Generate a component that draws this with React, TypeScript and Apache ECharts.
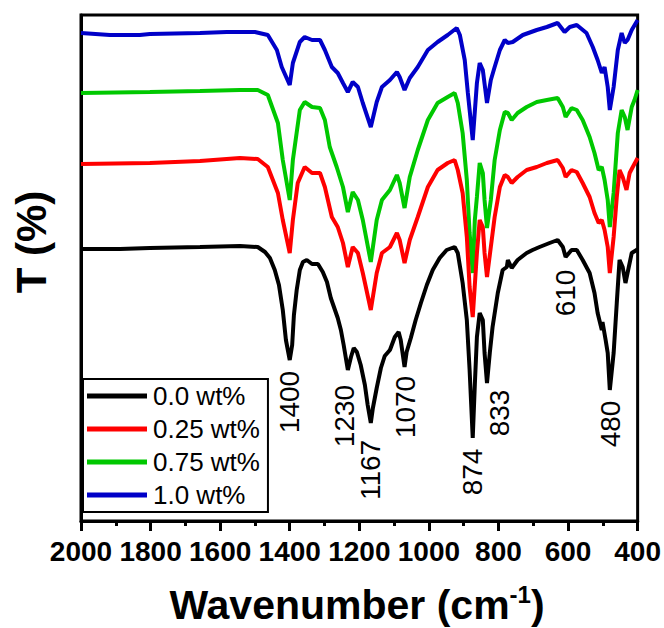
import React, { useEffect, useRef } from "react";
import * as echarts from "echarts";

// Wavenumber (cm-1) and transmittance (arbitrary offset units)
const blackWn = [2000,1888,1802,1658,1543,1492,1471,1457,1443,1431,1420,1411,1400,1393,1388,1380,1371,1362,1351,1336,1319,1305,1293,1282,1270,1262,1253,1245,1233,1224,1216,1207,1196,1184,1176,1167,1161,1150,1138,1127,1112,1098,1087,1081,1070,1064,1052,1038,1023,1006,989,969,949,926,917,903,891,883,874,868,862,854,845,840,833,825,817,802,788,776,773,762,745,719,702,682,653,630,615,607,590,575,558,538,524,515,503,501,492,486,480,469,460,452,443,435,429,417,403,400];
const blackT = [272,272,273,274,275,274,269,263,251,236,211,181,161,176,206,231,251,259,261,257,257,249,239,223,211,203,191,176,151,164,173,169,156,136,116,98,113,133,153,165,171,184,189,181,154,169,183,201,218,236,251,263,271,274,268,238,201,151,83,136,184,208,201,168,138,168,194,228,251,254,261,253,261,268,271,274,278,281,274,264,271,271,261,248,228,208,191,199,181,168,131,168,218,261,254,238,248,268,271,272];

const redWn = [2000,1802,1658,1543,1492,1463,1434,1420,1400,1391,1377,1357,1336,1313,1299,1279,1262,1247,1233,1219,1204,1190,1167,1150,1135,1112,1092,1084,1070,1055,1032,1003,975,946,926,917,903,891,883,874,868,862,854,845,840,833,822,811,796,782,773,762,745,719,690,661,630,615,607,590,575,558,538,524,512,503,495,486,480,469,460,452,443,432,423,414,400];
const redT = [357,358,360,363,362,354,328,301,268,301,338,354,348,348,334,304,294,278,254,274,268,248,211,248,268,274,288,281,258,281,304,334,351,358,361,351,328,284,234,204,236,268,301,294,268,244,274,304,334,346,344,338,344,351,354,358,361,353,344,351,349,338,324,308,298,301,291,274,248,284,324,351,344,331,348,354,363];

const greenWn = [2000,1802,1658,1543,1492,1463,1434,1420,1400,1391,1371,1357,1336,1313,1299,1285,1265,1247,1233,1219,1204,1190,1167,1150,1135,1112,1092,1084,1070,1055,1032,1003,975,946,926,917,903,891,883,874,868,862,854,845,840,833,822,811,796,782,773,762,745,719,690,661,630,615,607,590,575,558,538,524,512,503,495,486,480,469,457,446,437,429,417,409,400];
const greenT = [428,429,430,431,431,426,398,361,321,361,411,419,414,413,401,374,354,334,309,329,321,301,259,301,321,331,346,338,313,344,371,401,418,424,428,418,388,341,288,248,301,324,358,348,321,293,321,361,391,409,408,401,408,414,419,421,423,414,404,413,411,401,384,368,351,354,341,321,294,328,388,411,404,391,414,421,431];

const blueWn = [2000,1917,1831,1802,1658,1581,1500,1463,1437,1423,1400,1391,1371,1357,1336,1313,1299,1279,1262,1247,1233,1219,1204,1190,1167,1150,1135,1112,1092,1084,1070,1055,1032,1003,975,946,920,911,897,888,874,862,854,845,833,822,811,796,782,773,759,730,690,661,630,610,595,575,547,529,515,503,495,486,480,469,457,446,437,429,417,400];
const blueT = [488,486,486,487,488,489,489,486,471,454,436,458,479,484,481,481,471,454,448,438,429,439,434,418,394,419,434,441,449,444,431,443,454,471,479,486,493,486,461,428,381,438,458,451,418,441,454,471,481,478,479,486,491,494,498,489,494,496,488,474,461,448,454,434,411,434,471,488,478,481,491,501];

const seriesNames = ["0.0 wt%", "0.25 wt%", "0.75 wt%", "1.0 wt%"];
const seriesColors = ["#000000", "#ff0000", "#00c800", "#0000c8"];

// Peak annotations: label, wavenumber position, vertical position
const peakLabels = ["1400", "1230", "1167", "1070", "874", "833", "480", "610"];
const peakWn = [1400, 1242, 1167, 1066, 874, 796, 478, 607];
const peakT = [119, 105, 51, 114, 49, 108, 97, 228];

const xTicks = [2000, 1800, 1600, 1400, 1200, 1000, 800, 600, 400];

function zip(a: number[], b: number[]) {
  return a.map((v, i) => [v, b[i]]);
}

export default function App() {
  const ref = useRef<HTMLDivElement>(null);
  useEffect(() => {
    if (!ref.current) return;
    const chart = echarts.init(ref.current, undefined, { renderer: "svg" });
    const curves = [
      zip(blackWn, blackT),
      zip(redWn, redT),
      zip(greenWn, greenT),
      zip(blueWn, blueT),
    ];
    const font = "Arial";
    chart.setOption({
      animation: false,
      grid: {
        left: 81,
        right: 26,
        top: 15,
        bottom: 107,
        show: true,
        borderColor: "#000",
        borderWidth: 3,
        backgroundColor: "transparent",
      },
      xAxis: {
        type: "value",
        inverse: true,
        min: xTicks[xTicks.length - 1],
        max: xTicks[0],
        interval: 200,
        axisLine: { show: true, lineStyle: { color: "#000", width: 3 } },
        axisTick: { show: true, inside: false, length: 10, lineStyle: { color: "#000", width: 3 } },
        minorTick: { show: true, splitNumber: 2, length: 5, lineStyle: { color: "#000", width: 3 } },
        splitLine: { show: false },
        axisLabel: {
          show: true,
          interval: 0,
          hideOverlap: false,
          showMinLabel: true,
          showMaxLabel: true,
          formatter: (v: number) => String(v),
          color: "#000",
          fontFamily: font,
          fontWeight: "bold",
          fontSize: 28,
          margin: 16,
        },
      },
      yAxis: {
        type: "value",
        min: 0,
        max: 506,
        axisLine: { show: true, lineStyle: { color: "#000", width: 3 } },
        axisTick: { show: false },
        axisLabel: { show: false },
        splitLine: { show: false },
      },
      legend: {
        show: true,
        data: seriesNames,
        orient: "vertical",
        left: 83,
        top: 379,
        icon: "rect",
        itemWidth: 60,
        itemHeight: 5,
        itemGap: 7,
        padding: [4, 8, 4, 4],
        borderColor: "#000",
        borderWidth: 2,
        backgroundColor: "#fff",
        textStyle: { color: "#000", fontFamily: font, fontSize: 26, padding: [0, 0, 0, 1] },
      },
      series: [
        ...curves.map((d, i) => ({
          type: "line",
          name: seriesNames[i],
          data: d,
          showSymbol: false,
          symbol: "none",
          color: seriesColors[i],
          lineStyle: { color: seriesColors[i], width: 4 },
          z: 2 + (3 - i),
          silent: true,
        })),
        {
          type: "scatter",
          name: "peaks",
          symbolSize: 0,
          silent: true,
          data: peakLabels.map((t, i) => ({ name: t, value: [peakWn[i], peakT[i]] })),
          label: {
            show: true,
            position: "inside",
            rotate: 90,
            formatter: (p: any) => p.name,
            color: "#000",
            fontFamily: font,
            fontSize: 28,
            opacity: 1,
          },
          itemStyle: { opacity: 1 },
          z: 10,
        },
      ],
      graphic: [
        {
          type: "text",
          x: 31,
          y: 242,
          rotation: Math.PI / 2,
          style: {
            text: "T (%)",
            fill: "#000",
            font: `bold 42px ${font}`,
            align: "center",
            verticalAlign: "middle",
          },
        },
        {
          type: "text",
          x: 357,
          y: 605,
          style: {
            text: "{n|Wavenumber (cm}{s|-1}{n|)}",
            align: "center",
            verticalAlign: "middle",
            rich: {
              n: { fontFamily: font, fontWeight: "bold", fontSize: 41, fill: "#000", lineHeight: 46 },
              s: { fontFamily: font, fontWeight: "bold", fontSize: 24, fill: "#000", verticalAlign: "top", lineHeight: 24 },
            },
          },
        },
      ],
    });
    return () => chart.dispose();
  }, []);
  return (
    <div
      ref={ref}
      style={{ position: "fixed", left: 0, top: 0, width: 664, height: 628, background: "#fff" }}
    />
  );
}
